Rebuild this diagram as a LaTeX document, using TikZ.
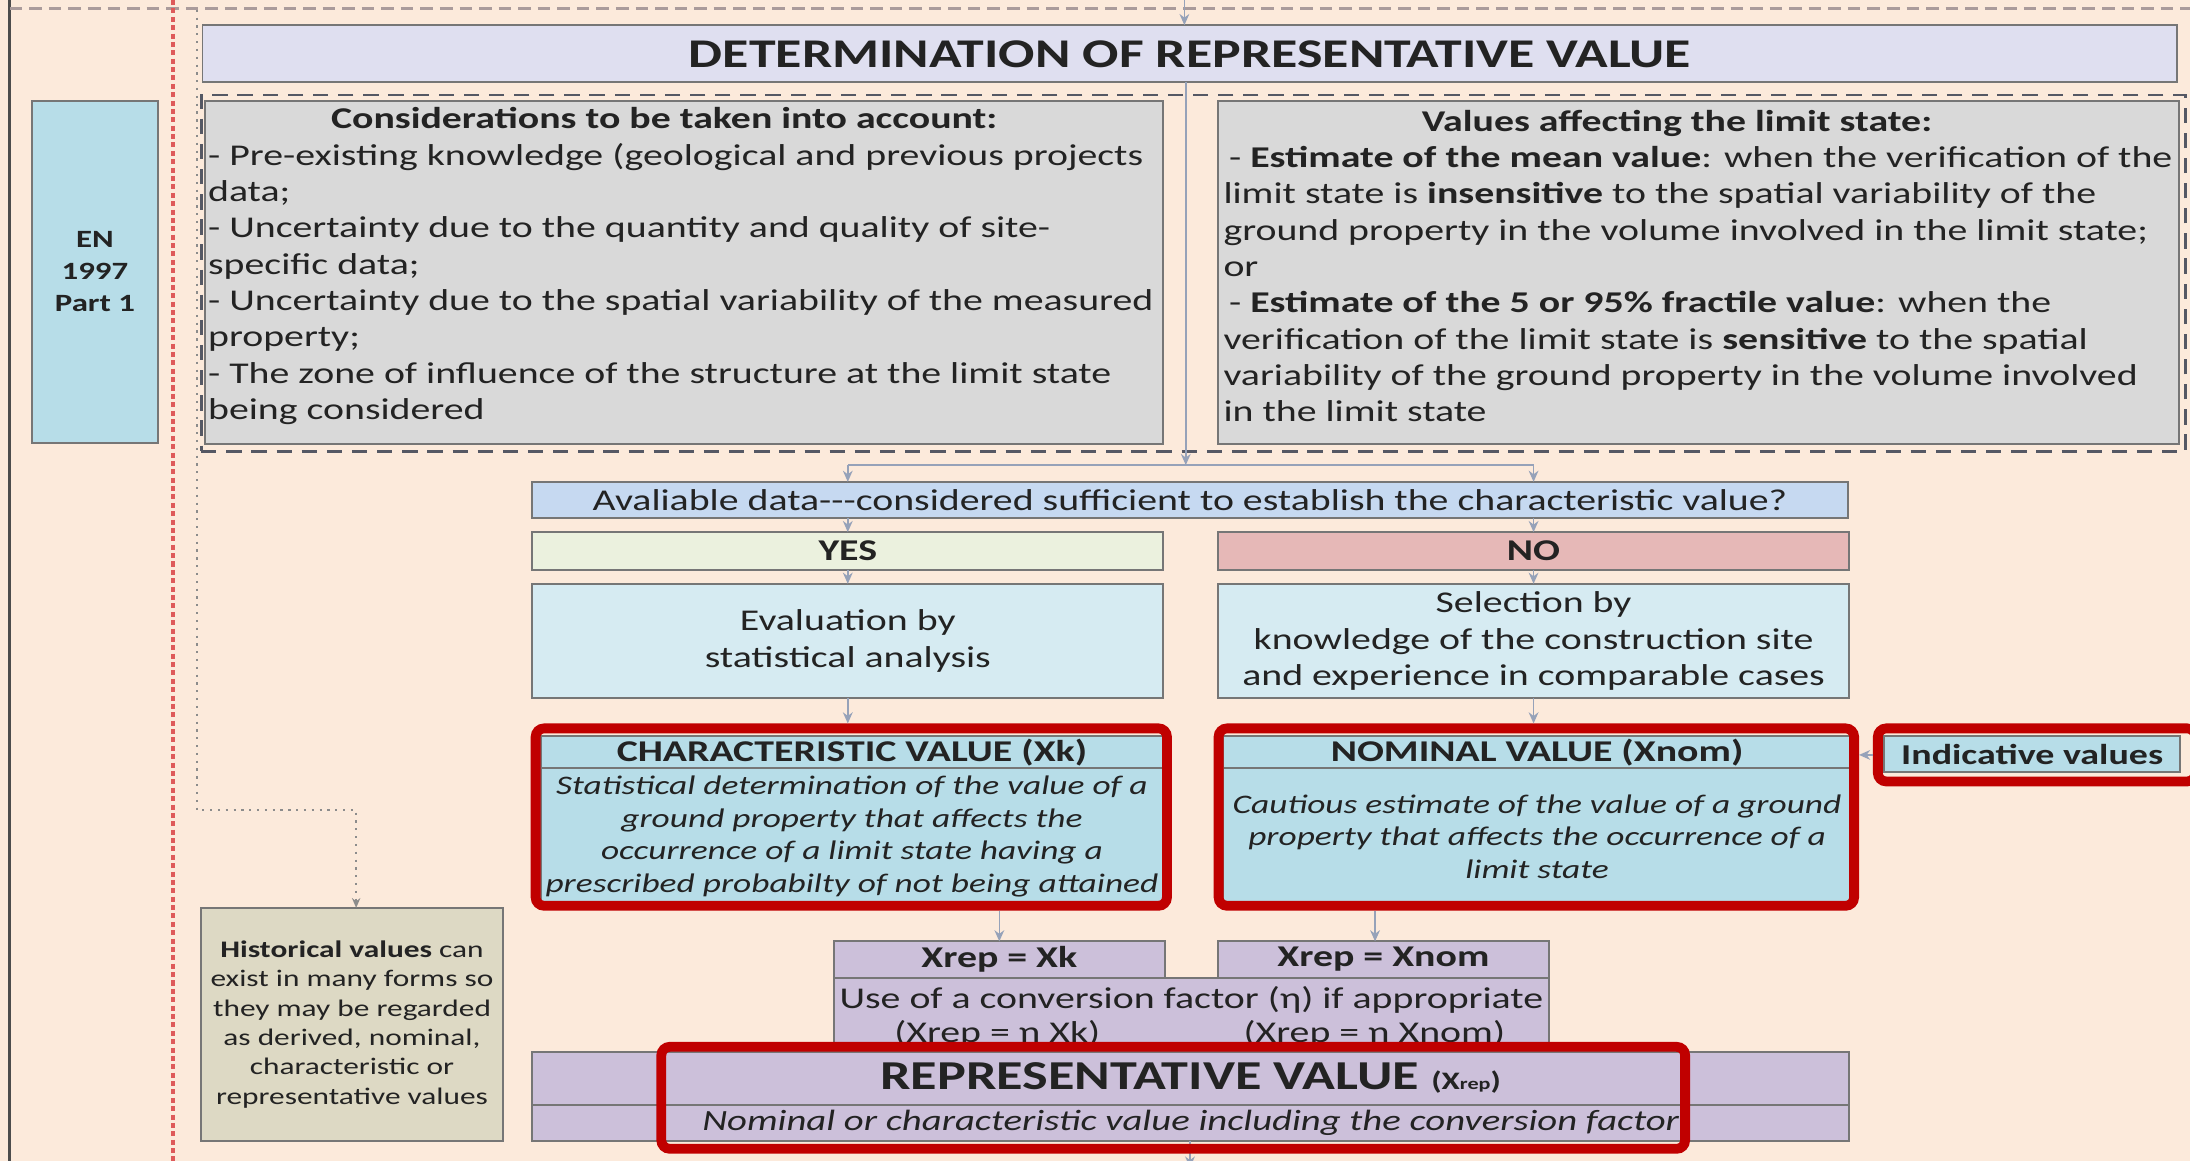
\documentclass[tikz,border=0pt]{standalone}
\usepackage{fontspec}
\setmainfont{Carlito}[FakeStretch=1.32]
\usetikzlibrary{arrows.meta}
\definecolor{peach}{RGB}{252,234,219}
\definecolor{lav}{RGB}{223,223,240}
\definecolor{lgray}{RGB}{217,217,217}
\definecolor{enblue}{RGB}{183,221,232}
\definecolor{qblue}{RGB}{198,217,241}
\definecolor{yesfill}{RGB}{235,241,222}
\definecolor{nofill}{RGB}{230,184,183}
\definecolor{evfill}{RGB}{214,235,242}
\definecolor{purp}{RGB}{204,192,218}
\definecolor{histfill}{RGB}{221,217,196}
\definecolor{redfr}{RGB}{192,0,0}
\definecolor{bord}{RGB}{118,118,118}
\definecolor{txt}{RGB}{35,35,35}
\definecolor{arrc}{RGB}{150,162,185}
\definecolor{reddash}{RGB}{222,90,90}
\definecolor{framec}{RGB}{85,88,100}
\definecolor{topdash}{RGB}{170,155,155}
\newcommand{\myfs}[2]{\fontsize{#1}{#2}\selectfont}
\begin{document}
\begin{tikzpicture}[x=0.5pt,y=-0.5pt,
  box/.style={draw=bord, line width=0.7pt, inner sep=0pt, outer sep=0pt, text=txt, font=\myfs{10.8}{13}},
  txtnode/.style={inner sep=0pt, outer sep=0pt, text=txt, font=\myfs{10.8}{13}},
  redframe/.style={draw=redfr, line width=3.5pt, rounded corners=3pt, inner sep=0pt},
  arr/.style={draw=arrc, line width=0.6pt, -{Stealth[length=4pt,width=3.5pt]}},
  plainline/.style={draw=arrc, line width=0.6pt},
  dotarr/.style={draw=gray!90, line width=0.8pt, dotted, -{Stealth[length=3.5pt,width=3pt,open]}}
]
\fill[peach] (0,0) rectangle (1568,831);
\useasboundingbox (0,0) rectangle (1568,831);

% page guides
\draw[draw=black!70, line width=1pt] (7,0) -- (7,831);
\draw[draw=topdash, line width=0.9pt, dash pattern=on 4.5pt off 2.5pt] (7,6) -- (1568,6);
\draw[draw=reddash, line width=1.3pt, dash pattern=on 1.8pt off 1.2pt] (124,0) -- (124,831);

\coordinate (dTop) at (141,7);
\coordinate (dBend) at (141,580);
\coordinate (dBend2) at (255,580);
\coordinate (topIn) at (848,0);
\coordinate (split) at (849,333);
\coordinate (splitL) at (607,333);
\coordinate (splitR) at (1098,333);
\coordinate (bot) at (852,836);

% EN box
\node[box, fill=enblue, minimum width=45pt, minimum height=122.5pt, font=\bfseries\myfs{8.9}{11.5}, align=center] (en) at (68,194.5) {EN\\1997\\Part 1};

% title
\node[box, fill=lav, minimum width=707pt, minimum height=20.5pt, font=\bfseries\myfs{14.6}{16}] (title) at (852,38.5) {DETERMINATION OF REPRESENTATIVE VALUE};

% dashed frame and gray boxes
\node[draw=framec, line width=1pt, dash pattern=on 5.5pt off 3.5pt, minimum width=710.5pt, minimum height=127.5pt, inner sep=0pt] (frame) at (854.5,195.5) {};
\node[box, fill=lgray, minimum width=343pt, minimum height=123pt] (cons) at (490,195) {};
\node[txtnode, anchor=west, align=left] (consT) at (149,190.5) {%
\hspace*{44pt}\textbf{Considerations to be taken into account:}\\
- Pre-existing knowledge (geological and previous projects\\
data;\\
- Uncertainty due to the quantity and quality of site-\\
specific data;\\
- Uncertainty due to the spatial variability of the measured\\
property;\\
- The zone of influence of the structure at the limit state\\
being considered};
\node[box, fill=lgray, minimum width=344pt, minimum height=123pt] (vals) at (1216,195) {};
\node[txtnode, anchor=west, align=left] (valsT) at (876,190.5) {%
\hspace*{71pt}\textbf{Values affecting the limit state:}\\
\hspace*{2pt}- \textbf{Estimate of the mean value}: when the verification of the\\
limit state is \textbf{insensitive} to the spatial variability of the\\
ground property in the volume involved in the limit state;\\
or\\
\hspace*{2pt}- \textbf{Estimate of the 5 or 95\% fractile value}: when the\\
verification of the limit state is \textbf{sensitive} to the spatial\\
variability of the ground property in the volume involved\\
in the limit state};

% decision chain
\node[box, fill=qblue, minimum width=471pt, minimum height=13pt] (avail) at (852,358) {Avaliable data-{}-{}-considered sufficient to establish the characteristic value?};
\node[box, fill=yesfill, minimum width=226pt, minimum height=13.5pt, font=\bfseries\myfs{10.8}{13}] (yes) at (607,394.5) {YES};
\node[box, fill=nofill, minimum width=226pt, minimum height=13.5pt, font=\bfseries\myfs{10.8}{13}] (no) at (1098,394.5) {NO};
\node[box, fill=evfill, minimum width=226pt, minimum height=41pt, align=center] (eval) at (607,459) {Evaluation by\\statistical analysis};
\node[box, fill=evfill, minimum width=226pt, minimum height=41pt, align=center] (sel) at (1098,459) {Selection by\\knowledge of the construction site\\and experience in comparable cases};

% characteristic / nominal
\node[box, fill=enblue, minimum width=223pt, minimum height=11.5pt, font=\bfseries\myfs{10.8}{13}] (charH) at (610,538.5) {CHARACTERISTIC VALUE (Xk)};
\node[box, fill=enblue, minimum width=223pt, minimum height=49pt, align=center, font=\itshape\myfs{9.6}{11.67}] (charB) at (610,599) {Statistical determination of the value of a\\ground property that affects the\\occurrence of a limit state having a\\prescribed probabilty of not being attained};
\node[box, fill=enblue, minimum width=224.5pt, minimum height=11.5pt, font=\bfseries\myfs{10.8}{13}] (nomH) at (1100.5,538.5) {NOMINAL VALUE (Xnom)};
\node[box, fill=enblue, minimum width=224.5pt, minimum height=49pt, align=center, font=\itshape\myfs{9.6}{11.67}] (nomB) at (1100.5,599) {Cautious estimate of the value of a ground\\property that affects the occurrence of a\\limit state};
\node[box, fill=enblue, minimum width=106pt, minimum height=13pt, font=\bfseries\myfs{10.3}{13}] (ind) at (1455,540) {Indicative values};

% Xrep boxes
\node[box, fill=purp, minimum width=256pt, minimum height=30pt] (conv) at (853,730) {};
\node[txtnode] (convT) at (853,716) {Use of a conversion factor (η) if appropriate};
\node[txtnode] (convA) at (714,740) {(Xrep = η Xk)};
\node[txtnode] (convB) at (984,740) {(Xrep = η Xnom)};
\node[box, fill=purp, minimum width=118.5pt, minimum height=13pt, font=\bfseries\myfs{10.8}{13}] (xk) at (715.5,687) {Xrep = Xk};
\node[box, fill=purp, minimum width=118.5pt, minimum height=13pt, font=\bfseries\myfs{10.8}{13}] (xnom) at (990.5,687) {Xrep = Xnom};

\node[box, fill=purp, minimum width=471.5pt, minimum height=19pt] (repH) at (852.5,772) {\bfseries\myfs{14.7}{15}REPRESENTATIVE VALUE \myfs{9}{10}(X{\myfs{6}{7}rep})};
\node[box, fill=purp, minimum width=471.5pt, minimum height=13pt, font=\itshape\myfs{10.5}{13}] (repS) at (852.5,804) {Nominal or characteristic value including the conversion factor};
\draw[arr] (repS.south -| bot) -- (bot);

% historical
\node[box, fill=histfill, minimum width=108pt, minimum height=83.5pt, align=center, font=\myfs{8.5}{10.5}] (hist) at (252,733.5) {\textbf{Historical values} can\\exist in many forms so\\they may be regarded\\as derived, nominal,\\characteristic or\\representative values};

% red highlight frames
\node[redframe, minimum width=226pt, minimum height=63.5pt] (charF) at (609.5,585) {};
\node[redframe, minimum width=227.5pt, minimum height=63.5pt] (nomF) at (1100,585) {};
\node[redframe, minimum width=113.75pt, minimum height=19pt] (indF) at (1458.25,540.5) {};
\node[redframe, minimum width=366.5pt, minimum height=36.5pt] (repF) at (840,786) {};

% connectors
\draw[arr] (topIn) -- (topIn |- title.north);
\draw[arr] (title.south -| split) -- (split);
\draw[plainline] (splitL) -- (splitR);
\draw[arr] (splitL) -- (splitL |- avail.north);
\draw[arr] (splitR) -- (splitR |- avail.north);
\draw[arr] (avail.south -| yes) -- (yes.north);
\draw[arr] (avail.south -| no) -- (no.north);
\draw[arr] (yes) -- (eval);
\draw[arr] (no) -- (sel);
\draw[arr] (eval) -- (eval |- charF.north);
\draw[arr] (sel) -- (sel |- nomF.north);
\draw[arr] (indF.west) -- (indF.west -| nomF.east);
\draw[arr] (xk.north |- charF.south) -- (xk.north);
\draw[arr] ([xshift=-3pt]xnom.north |- nomF.south) -- ([xshift=-3pt]xnom.north);
\draw[dotarr] (dTop) -- (dBend) -- (dBend2) -- (dBend2 |- hist.north);
\end{tikzpicture}
\end{document}
